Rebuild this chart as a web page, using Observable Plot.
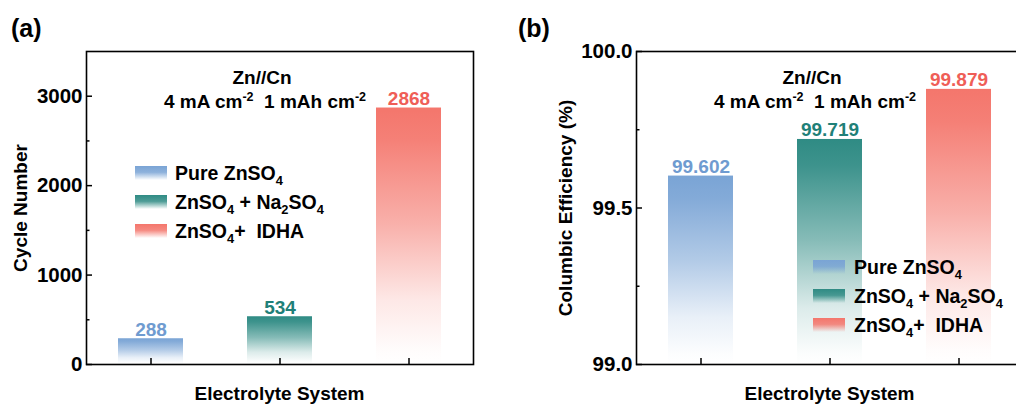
<!DOCTYPE html>
<html>
<head>
<meta charset="utf-8">
<script src="https://cdn.jsdelivr.net/npm/d3@7"></script>
<script src="https://cdn.jsdelivr.net/npm/@observablehq/plot@0.6"></script>
<style>
html, body { margin: 0; padding: 0; background: #fff; overflow: hidden; }
#wrap { position: relative; width: 1016px; height: 405px; overflow: hidden; }
#wrap svg { position: absolute; top: 0; }
</style>
</head>
<body>
<div id="wrap"></div>
<script>
// ---------- data ----------
const categories = ["Pure ZnSO4", "ZnSO4 + Na2SO4", "ZnSO4 + IDHA"];
const cycleNumber = [288, 534, 2868];
const columbicEfficiency = [99.602, 99.719, 99.879];
const barColors = ["#7aa4d5", "#2f8b84", "#f4766c"];
const labelColors = ["#6f9bd0", "#1f8078", "#ef5e57"];
const cycleTicks = [0, 1000, 2000, 3000];
const cycleMinorTicks = [500, 1500, 2500];
const ceTicks = [99.0, 99.5, 100.0];
const ceMinorTicks = [99.25, 99.75];
const legendLabels = [
  [["Pure ZnSO"], ["4", "sub"]],
  [["ZnSO"], ["4", "sub"], [" + Na"], ["2", "sub"], ["SO"], ["4", "sub"]],
  [["ZnSO"], ["4", "sub"], ["+  IDHA"]]
];
const noteLine1 = [["Zn//Cn"]];
const noteLine2 = [["4 mA cm"], ["-2", "sup"], ["  1 mAh cm"], ["-2", "sup"]];

const FONT = '"Liberation Sans", Arial, Helvetica, sans-serif';
const wrap = d3.select("#wrap");

// ---------- gradient definitions ----------
const defs = wrap.append("svg").attr("width", 0).attr("height", 0).append("defs");
barColors.forEach((c, i) => {
  const g = defs.append("linearGradient").attr("id", "barGrad" + i)
    .attr("x1", 0).attr("y1", 0).attr("x2", 0).attr("y2", 1);
  [[0, 1], [0.12, 0.93], [0.45, 0.58], [0.75, 0.17], [0.95, 0.02], [1, 0]].forEach(([o, a]) =>
    g.append("stop").attr("offset", o).attr("stop-color", c).attr("stop-opacity", a));
  const s = defs.append("linearGradient").attr("id", "swGrad" + i)
    .attr("x1", 0).attr("y1", 0).attr("x2", 0).attr("y2", 1);
  [[0, 1], [0.45, 0.85], [1, 0]].forEach(([o, a]) =>
    s.append("stop").attr("offset", o).attr("stop-color", c).attr("stop-opacity", a));
});

// ---------- helpers ----------
function richText(sel, segments, size) {
  let shift = 0;
  segments.forEach(([t, kind]) => {
    const ts = sel.append("tspan").text(t);
    let target = 0;
    if (kind === "sub") { target = 5; ts.attr("font-size", size * 0.66); }
    else if (kind === "sup") { target = -7; ts.attr("font-size", size * 0.66); }
    ts.attr("dy", target - shift);
    shift = target;
  });
}
function addText(svg, x, y, segments, opts = {}) {
  const size = opts.size || 19;
  const t = svg.append("text")
    .attr("x", x).attr("y", y)
    .attr("font-family", FONT).attr("font-weight", "bold")
    .attr("font-size", size).attr("fill", "black")
    .attr("text-anchor", opts.anchor || "start")
    .style("white-space", "pre");
  if (opts.rotate) t.attr("transform", `rotate(${opts.rotate},${x},${y})`);
  if (opts.baseline) t.attr("dominant-baseline", opts.baseline);
  richText(t, segments, size);
  return t;
}
function addLegend(svg, swX, textX, baselines) {
  legendLabels.forEach((segs, i) => {
    svg.append("rect").attr("x", swX).attr("y", baselines[i] - 14)
      .attr("width", 32).attr("height", 14).attr("fill", `url(#swGrad${i})`);
    addText(svg, textX, baselines[i], segs, {size: 19.5});
  });
}

function panel({values, domain, major, minor, fmtTick, fmtVal, width, marginLeft, marginRight, left}) {
  const height = 405, marginTop = 51, marginBottom = 41;
  const fw = width - marginLeft - marginRight;
  const fh = height - marginTop - marginBottom;
  const data = categories.map((c, i) => ({cat: c, v: values[i], i}));
  const chart = Plot.plot({
    width, height, marginTop, marginBottom, marginLeft, marginRight,
    x: {domain: categories, paddingInner: 0.5, paddingOuter: 0.25, axis: null},
    y: {domain, axis: null},
    color: {type: "identity"},
    style: {fontFamily: FONT, background: "transparent", overflow: "visible"},
    marks: [
      Plot.barY(data, {x: "cat", y1: () => domain[0], y2: "v", fill: d => `url(#barGrad${d.i})`}),
      Plot.text(data, {x: "cat", y: "v", text: d => fmtVal(d.v), dy: -3, lineAnchor: "bottom",
        fill: d => labelColors[d.i], fontSize: 19, fontWeight: "bold"}),
      Plot.frame({stroke: "black", strokeWidth: 1.6}),
      Plot.tickY(major, {y: d => d, insetRight: fw - 6, stroke: "black", strokeWidth: 1.5}),
      Plot.tickY(minor, {y: d => d, insetRight: fw - 3.5, stroke: "black", strokeWidth: 1.5}),
      Plot.tickX(categories, {x: d => d, insetTop: fh - 6, stroke: "black", strokeWidth: 1.5}),
      Plot.text(major, {y: d => d, frameAnchor: "left", dx: -4, textAnchor: "end",
        text: fmtTick, fontSize: 20.5, fontWeight: "bold", fill: "black"})
    ]
  });
  chart.style.left = left + "px";
  wrap.node().appendChild(chart);
  return d3.select(chart);
}

// ---------- panel (a) ----------
const svgA = panel({
  values: cycleNumber, domain: [0, 3500], major: cycleTicks, minor: cycleMinorTicks,
  fmtTick: d3.format("d"), fmtVal: d3.format("d"),
  width: 500, marginLeft: 86, marginRight: 27, left: 0
});
addText(svgA, 11, 37, [["(a)"]], {size: 25});
addText(svgA, 20, 208, [["Cycle Number"]], {size: 19, anchor: "middle", rotate: -90, baseline: "central"});
addText(svgA, 279.5, 400, [["Electrolyte System"]], {size: 19, anchor: "middle"});
addText(svgA, 262, 84, noteLine1, {size: 19, anchor: "middle"});
addText(svgA, 265, 108, noteLine2, {size: 19, anchor: "middle"});
addLegend(svgA, 135, 175, [180, 209, 238]);

// ---------- panel (b) ----------
const svgB = panel({
  values: columbicEfficiency, domain: [99, 100], major: ceTicks, minor: ceMinorTicks,
  fmtTick: d3.format(".1f"), fmtVal: d3.format(".3f"),
  width: 530, marginLeft: 136, marginRight: 7, left: 500
});
addText(svgB, 18, 37, [["(b)"]], {size: 25});
addText(svgB, 65, 208, [["Columbic Efficiency (%)"]], {size: 19, anchor: "middle", rotate: -90, baseline: "central"});
addText(svgB, 329.5, 400, [["Electrolyte System"]], {size: 19, anchor: "middle"});
addText(svgB, 312, 84, noteLine1, {size: 19, anchor: "middle"});
addText(svgB, 315, 108, noteLine2, {size: 19, anchor: "middle"});
addLegend(svgB, 313, 354, [274, 303, 332]);
</script>
</body>
</html>
